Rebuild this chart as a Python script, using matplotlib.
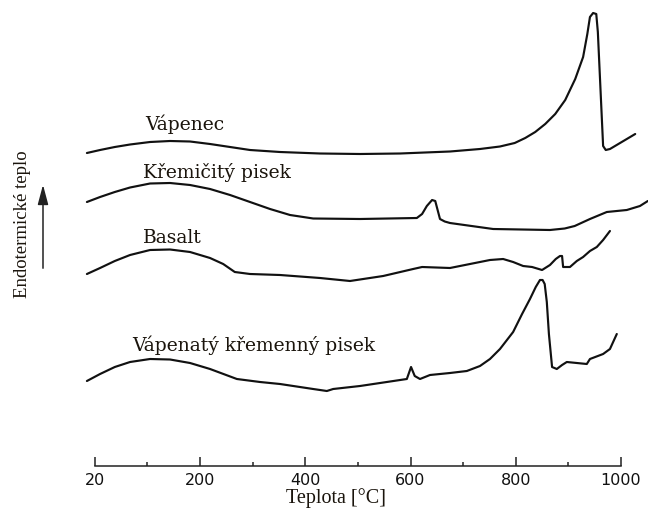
import matplotlib
matplotlib.use("Agg")
import matplotlib.pyplot as plt

# ---- data (temperature in °C, relative endothermic heat in arbitrary units) ----
tick_pos = [0, 200, 400, 600, 800, 1000]
tick_labels = ["20", "200", "400", "600", "800", "1000"]
minor_pos = [100, 300, 500, 700, 900]

names = ["Vápenec", "Křemičitý pisek", "Basalt", "Vápenatý křemenný pisek"]

t_vapenec = [-15, 10, 38, 67, 105, 143, 181, 219, 257, 295, 352, 428, 504, 580, 675, 732,
             770, 798, 818, 837, 856, 875, 894, 913, 928, 936, 941, 947, 953, 956, 966, 971,
             979, 1027]
y_vapenec = [313, 316, 319, 321.5, 324, 325, 324.5, 322, 319, 316, 314, 312.5, 312, 312.5,
             314.5, 317, 319.5, 323, 328, 334, 342, 352, 366, 387, 409, 432, 449, 453, 452,
             434, 320, 316, 317, 332]

t_kremicity = [-15, 10, 38, 67, 105, 143, 181, 219, 257, 295, 333, 371, 415, 504, 612, 622,
               631, 641, 647, 652, 656, 665, 675, 757, 865, 893, 912, 941, 973, 1011, 1036, 1051]
y_kremicity = [264, 269, 274, 278.5, 282.5, 283, 281, 277, 271, 264, 257, 251, 247.5, 247,
               248, 252, 260, 266, 265, 255, 247, 244.5, 243, 237, 236, 237.5, 240, 247, 254,
               256, 260, 265]

t_basalt = [-15, 10, 38, 67, 105, 143, 181, 219, 244, 266, 295, 352, 428, 485, 548, 605, 622,
            675, 713, 751, 776, 795, 814, 831, 850, 865, 876, 884, 888, 890, 903, 916, 928,
            941, 954, 966, 979]
y_basalt = [192, 198, 205, 211, 216, 216.5, 214, 208, 202, 194, 192, 191, 188, 185, 190, 197,
            199, 198, 202, 206, 207, 204, 200, 199, 196, 201, 207, 210, 210, 199, 199, 205,
            209, 215, 219, 226, 235]

t_vkp = [-15, 10, 38, 67, 105, 143, 181, 219, 270, 314, 352, 415, 441, 453, 504, 593, 601,
         608, 618, 637, 675, 707, 732, 751, 770, 795, 812, 827, 838, 846, 851, 855, 859, 863,
         869, 878, 888, 897, 935, 941, 966, 979, 992]
y_vkp = [85, 92, 99, 104, 107, 106.5, 103, 97, 87, 84, 82, 77, 75, 77, 80, 87, 99, 90, 87, 91,
         93, 95, 100, 107, 117, 134, 152, 167, 179, 186, 186, 182, 164, 132, 99, 97, 101, 104,
         102, 107, 112, 117, 132]

series = [(t_vapenec, y_vapenec), (t_kremicity, y_kremicity), (t_basalt, y_basalt), (t_vkp, y_vkp)]
label_xy = [(95, 337), (92, 289), (92, 224), (71, 116)]

# ---- figure ----
W, H = 648, 510
fig = plt.figure(figsize=(W / 100, H / 100), dpi=100)
fig.patch.set_facecolor("white")

x0, x1 = -30, 1050
px0 = 94.8 + 0.5262 * x0
px1 = 94.8 + 0.5262 * x1
ax = fig.add_axes([px0 / W, (H - 467) / H, (px1 - px0) / W, 467 / H])
ax.set_xlim(x0, x1)
ax.set_ylim(0, 467)

ink = "#111111"
for (t, y) in series:
    ax.plot(t, y, color=ink, lw=1.55, solid_joinstyle="round", solid_capstyle="round",
            clip_on=False)

for name, (lx, ly) in zip(names, label_xy):
    ax.text(lx, ly, name, family="DejaVu Serif", fontsize=13.5, color="#1a140c",
            ha="left", va="baseline")

for s in ["left", "right", "top"]:
    ax.spines[s].set_visible(False)
ax.spines["bottom"].set_bounds(0, 1000)
ax.spines["bottom"].set_linewidth(1.1)
ax.spines["bottom"].set_color("#222222")
ax.set_yticks([])
ax.set_xticks(tick_pos)
ax.set_xticklabels(tick_labels, family="DejaVu Sans", fontsize=11.5, color="#111111")
ax.set_xticks(minor_pos, minor=True)
ax.tick_params(axis="x", which="major", direction="in", length=6.5, width=1.1,
               color="#222222", pad=4)
ax.tick_params(axis="x", which="minor", direction="in", length=3.2, width=1.1,
               color="#222222")
ax.patch.set_alpha(0)

# axis labels
fig.text(336 / W, (H - 503) / H, "Teplota [°C]", family="Liberation Serif", fontsize=14.5,
         color="#1a140c", ha="center", va="baseline")
fig.text(23 / W, 1 - 224 / H, "Endotermické teplo", family="Liberation Serif", fontsize=13.5,
         color="#1a140c", ha="center", va="center", rotation=90)

# arrow
fig.add_artist(matplotlib.patches.FancyArrowPatch(
    (43 / W, 1 - 272 / H), (43 / W, 1 - 183 / H), transform=fig.transFigure,
    arrowstyle="-|>,head_length=1.2,head_width=0.32", mutation_scale=10,
    color="#222222", lw=1.1))

fig.savefig("out.png", dpi=100)
